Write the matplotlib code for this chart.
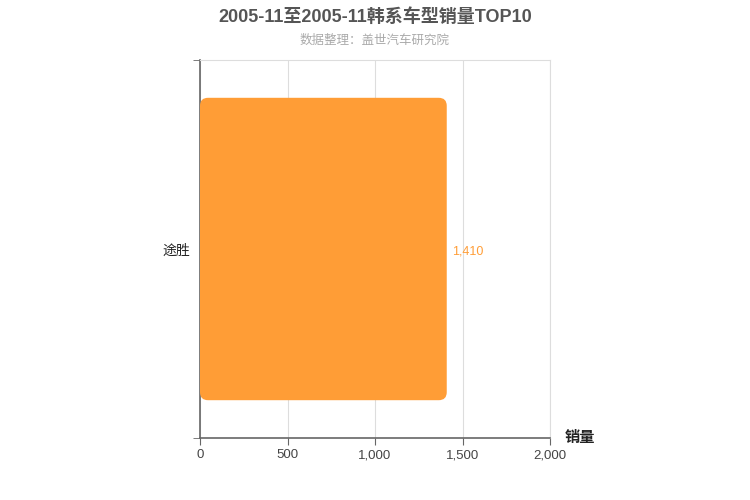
import matplotlib.pyplot as plt
from matplotlib.patches import FancyBboxPatch

plt.rcParams['font.family'] = ['Liberation Sans', 'Noto Sans CJK SC', 'DejaVu Sans']

# data
categories = ['途胜']
sales = [1410]
x_ticks = [0, 500, 1000, 1500, 2000]
x_labels = ['0', '500', '1,000', '1,500', '2,000']

bar_color = '#ff9d36'
axis_color = '#666666'
grid_color = '#dddddd'

fig = plt.figure(figsize=(7.5, 5), dpi=100)
ax = fig.add_axes([200 / 750, 62 / 500, 350 / 750, 378 / 500])

bars = ax.barh(categories, sales, height=0.8, color=bar_color)
ax.set_xlim(0, 2000)
ax.set_ylim(-0.5, 0.5)

# swap the plain bars for rounded ones of the same size
px_x = 2000 / 350
px_y = 1.0 / 378
for b in bars:
    x0, y0 = b.get_x(), b.get_y()
    w, h = b.get_width(), b.get_height()
    b.set_visible(False)
    r = 8 * px_x
    patch = FancyBboxPatch((x0, y0), w, h,
                           boxstyle=f'round,pad=0,rounding_size={r}',
                           mutation_aspect=px_y / px_x,
                           facecolor=bar_color, edgecolor='none', zorder=3)
    ax.add_patch(patch)
    ax.text(x0 + w + 5 * px_x, y0 + h / 2 - 2 * px_y, f'{w:,.0f}',
            color=bar_color, fontsize=9, va='center', ha='left')

# grid and axes
ax.set_xticks(x_ticks)
ax.set_xticklabels(x_labels, fontsize=9.5, color='#444444')
ax.xaxis.grid(True, color=grid_color, linewidth=0.8)
ax.set_axisbelow(True)
ax.tick_params(axis='x', length=5, color=axis_color, pad=3)

ax.set_yticks([0])
ax.set_yticklabels(categories, fontsize=10, color='#222222')
ax.set_yticks([-0.5, 0.5], minor=True)
ax.tick_params(axis='y', which='major', length=0, pad=7)
ax.tick_params(axis='y', which='minor', length=5, color=axis_color)

for side in ['left', 'bottom']:
    ax.spines[side].set_color(axis_color)
    ax.spines[side].set_linewidth(1.2)
for side in ['top', 'right']:
    ax.spines[side].set_color(grid_color)
    ax.spines[side].set_linewidth(0.8)

fig.text(580 / 750, 1 - 438 / 500, '销量', fontsize=11, fontweight='bold',
         color='#222222', ha='center', va='center')

fig.text(0.5, 1 - 17 / 500, '2005-11至2005-11韩系车型销量TOP10', fontsize=13,
         fontweight='bold', color='#555555', ha='center', va='center')
fig.text(0.5, 1 - 41 / 500, '数据整理：盖世汽车研究院', fontsize=9,
         color='#aaaaaa', ha='center', va='center')

fig.savefig('out.png', dpi=100)
